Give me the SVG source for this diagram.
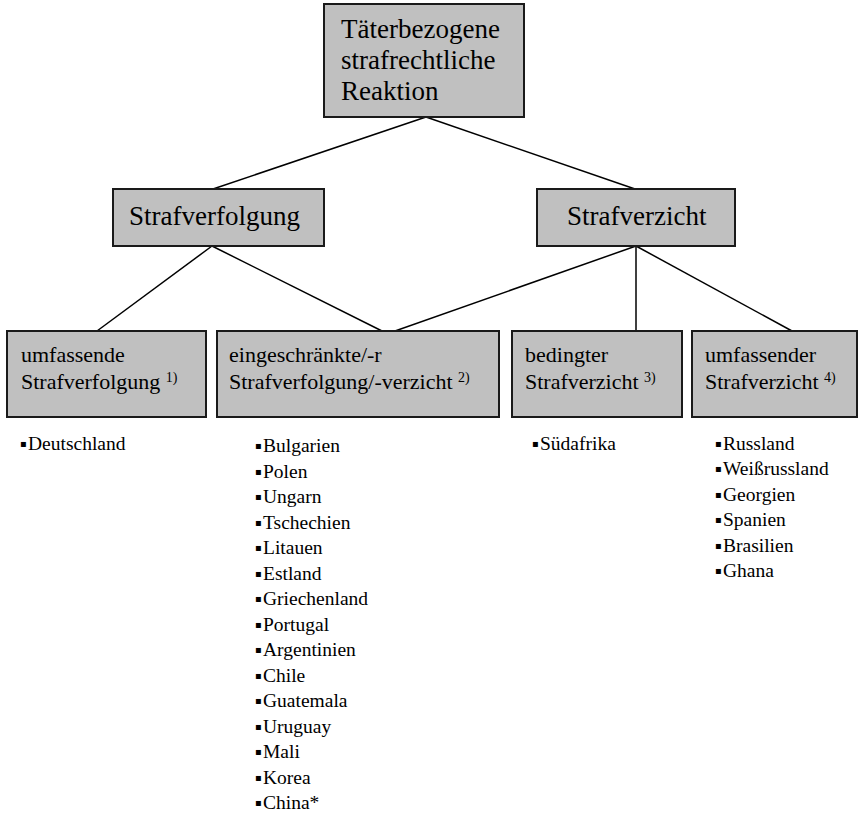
<svg xmlns="http://www.w3.org/2000/svg" width="862" height="813" viewBox="0 0 862 813">
<style>
.box{fill:#c0c0c0;stroke:#1a1a1a;stroke-width:2}
.t{font-family:"Liberation Serif","Times New Roman",serif;fill:#000}
.l1{font-size:27px}
.l3{font-size:22px}
.sup{font-size:14px}
.li{font-size:19.5px}
.b{font-family:"DejaVu Sans",sans-serif;font-size:10px}
.c{stroke:#000;stroke-width:1.5;fill:none}
</style>
<rect width="862" height="813" fill="#fff"/>
<g id="connectors">
<line class="c" x1="426" y1="117" x2="213" y2="189"/>
<line class="c" x1="426" y1="117" x2="635" y2="189"/>
<line class="c" x1="212" y1="246" x2="97" y2="331"/>
<line class="c" x1="212" y1="246" x2="382" y2="331"/>
<line class="c" x1="636" y1="246" x2="395" y2="331"/>
<line class="c" x1="636" y1="246" x2="636" y2="331"/>
<line class="c" x1="636" y1="246" x2="792" y2="331"/>
</g>
<g id="root">
<rect class="box" x="324" y="4" width="200" height="113"/>
<text class="t l1" x="341" y="38">Täterbezogene</text>
<text class="t l1" x="341" y="69">strafrechtliche</text>
<text class="t l1" x="341" y="100">Reaktion</text>
</g>
<g id="strafverfolgung">
<rect class="box" x="113" y="189" width="211" height="57"/>
<text class="t l1" x="129" y="225">Strafverfolgung</text>
</g>
<g id="strafverzicht">
<rect class="box" x="537" y="189" width="198" height="57"/>
<text class="t l1" x="567" y="225">Strafverzicht</text>
</g>
<g id="umfassende-strafverfolgung">
<rect class="box" x="7" y="331" width="199" height="86"/>
<text class="t l3" x="21" y="362">umfassende</text>
<text class="t l3" x="21" y="389">Strafverfolgung <tspan class="sup" dy="-7">1)</tspan></text>
</g>
<g id="eingeschraenkte">
<rect class="box" x="217" y="331" width="282" height="86"/>
<text class="t l3" x="229" y="362">eingeschränkte/-r</text>
<text class="t l3" x="229" y="389">Strafverfolgung/-verzicht <tspan class="sup" dy="-7">2)</tspan></text>
</g>
<g id="bedingter-strafverzicht">
<rect class="box" x="512" y="331" width="170" height="86"/>
<text class="t l3" x="525" y="362">bedingter</text>
<text class="t l3" x="525" y="389">Strafverzicht <tspan class="sup" dy="-7">3)</tspan></text>
</g>
<g id="umfassender-strafverzicht">
<rect class="box" x="692" y="331" width="165" height="86"/>
<text class="t l3" x="705" y="362">umfassender</text>
<text class="t l3" x="705" y="389">Strafverzicht <tspan class="sup" dy="-7">4)</tspan></text>
</g>
<g id="list-deutschland">
<text class="b" x="20" y="447">▪</text><text class="t li" x="28" y="450">Deutschland</text>
</g>
<g id="list-suedafrika">
<text class="b" x="532" y="447">▪</text><text class="t li" x="540" y="450">Südafrika</text>
</g>
<g id="list-eingeschraenkt">
<text class="b" x="255" y="449">▪</text><text class="t li" x="263" y="452">Bulgarien</text>
<text class="b" x="255" y="474.5">▪</text><text class="t li" x="263" y="477.5">Polen</text>
<text class="b" x="255" y="500">▪</text><text class="t li" x="263" y="503">Ungarn</text>
<text class="b" x="255" y="525.5">▪</text><text class="t li" x="263" y="528.5">Tschechien</text>
<text class="b" x="255" y="551">▪</text><text class="t li" x="263" y="554">Litauen</text>
<text class="b" x="255" y="576.5">▪</text><text class="t li" x="263" y="579.5">Estland</text>
<text class="b" x="255" y="602">▪</text><text class="t li" x="263" y="605">Griechenland</text>
<text class="b" x="255" y="627.5">▪</text><text class="t li" x="263" y="630.5">Portugal</text>
<text class="b" x="255" y="653">▪</text><text class="t li" x="263" y="656">Argentinien</text>
<text class="b" x="255" y="678.5">▪</text><text class="t li" x="263" y="681.5">Chile</text>
<text class="b" x="255" y="704">▪</text><text class="t li" x="263" y="707">Guatemala</text>
<text class="b" x="255" y="729.5">▪</text><text class="t li" x="263" y="732.5">Uruguay</text>
<text class="b" x="255" y="755">▪</text><text class="t li" x="263" y="758">Mali</text>
<text class="b" x="255" y="780.5">▪</text><text class="t li" x="263" y="783.5">Korea</text>
<text class="b" x="255" y="806">▪</text><text class="t li" x="263" y="809">China*</text>
</g>
<g id="list-umfassend">
<text class="b" x="715" y="447">▪</text><text class="t li" x="723" y="450">Russland</text>
<text class="b" x="715" y="472.4">▪</text><text class="t li" x="723" y="475.4">Weißrussland</text>
<text class="b" x="715" y="497.8">▪</text><text class="t li" x="723" y="500.8">Georgien</text>
<text class="b" x="715" y="523.2">▪</text><text class="t li" x="723" y="526.2">Spanien</text>
<text class="b" x="715" y="548.6">▪</text><text class="t li" x="723" y="551.6">Brasilien</text>
<text class="b" x="715" y="574">▪</text><text class="t li" x="723" y="577">Ghana</text>
</g>
</svg>
